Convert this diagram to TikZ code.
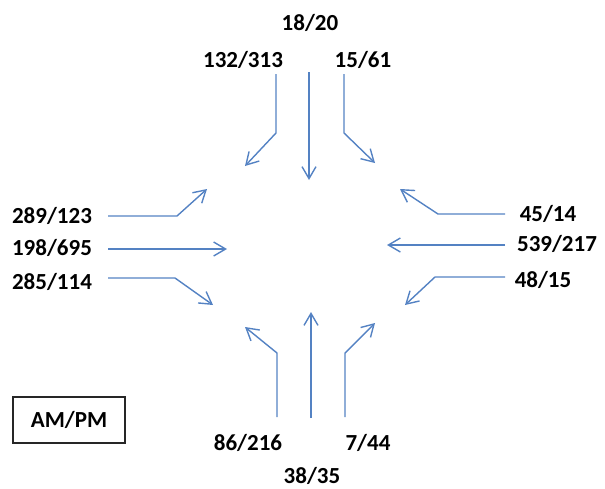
\documentclass[tikz,border=0pt]{standalone}
\usepackage{fontspec}
\setmainfont{Carlito}
\usetikzlibrary{arrows.meta}
\definecolor{flowblue}{RGB}{84,130,195}
\tikzset{
  vol/.style={font=\bfseries\fontsize{23}{26}\selectfont, text=black, inner sep=0pt},
  flow/.style={draw=flowblue, line width=1.4pt, -{Straight Barb[length=12pt,width=14pt,line width=1.4pt]}},
  legendbox/.style={draw=black!85, line width=1.2pt, minimum width=112pt, minimum height=46pt, font=\bfseries\fontsize{23}{26}\selectfont}
}
\begin{document}
\begin{tikzpicture}[x=1pt,y=-1pt]
\useasboundingbox (0,0) rectangle (605,488);

% north approach
\node[vol] (n2) at (310,23) {18/20};
\node[vol] (n1) at (243,60) {132/313};
\node[vol] (n3) at (363,60) {15/61};
\coordinate (n1s) at (276,74);  \coordinate (n1b) at (276,133); \coordinate (n1t) at (245,166);
\coordinate (n2s) at (309,72);  \coordinate (n2t) at (309,180);
\coordinate (n3s) at (344,74);  \coordinate (n3b) at (344,133); \coordinate (n3t) at (375,163);
\draw[flow] (n1s) -- (n1b) -- (n1t);
\draw[flow] (n2s) -- (n2t);
\draw[flow] (n3s) -- (n3b) -- (n3t);

% west approach
\node[vol] (w1) at (52,216) {289/123};
\node[vol] (w2) at (52,248) {198/695};
\node[vol] (w3) at (52,282) {285/114};
\coordinate (w1s) at (108,216); \coordinate (w1b) at (177,216); \coordinate (w1t) at (207,189);
\coordinate (w2s) at (108,249); \coordinate (w2t) at (227,249);
\coordinate (w3s) at (108,278); \coordinate (w3b) at (175,278); \coordinate (w3t) at (213,305);
\draw[flow] (w1s) -- (w1b) -- (w1t);
\draw[flow] (w2s) -- (w2t);
\draw[flow] (w3s) -- (w3b) -- (w3t);

% east approach
\node[vol] (e1) at (548,214) {45/14};
\node[vol] (e2) at (557,244) {539/217};
\node[vol] (e3) at (543,280) {48/15};
\coordinate (e1s) at (505,214); \coordinate (e1b) at (438,214); \coordinate (e1t) at (400,189);
\coordinate (e2s) at (505,245); \coordinate (e2t) at (387,245);
\coordinate (e3s) at (505,277); \coordinate (e3b) at (435,277); \coordinate (e3t) at (405,305);
\draw[flow] (e1s) -- (e1b) -- (e1t);
\draw[flow] (e2s) -- (e2t);
\draw[flow] (e3s) -- (e3b) -- (e3t);

% south approach
\node[vol] (s1) at (248,443) {86/216};
\node[vol] (s3) at (368,443) {7/44};
\node[vol] (s2) at (312,476) {38/35};
\coordinate (s1s) at (277,417); \coordinate (s1b) at (277,353); \coordinate (s1t) at (245,327);
\coordinate (s2s) at (311,418); \coordinate (s2t) at (311,312);
\coordinate (s3s) at (345,417); \coordinate (s3b) at (345,353); \coordinate (s3t) at (375,323);
\draw[flow] (s1s) -- (s1b) -- (s1t);
\draw[flow] (s2s) -- (s2t);
\draw[flow] (s3s) -- (s3b) -- (s3t);

% legend
\node[legendbox] (legend) at (69,420) {AM/PM};
\end{tikzpicture}
\end{document}
